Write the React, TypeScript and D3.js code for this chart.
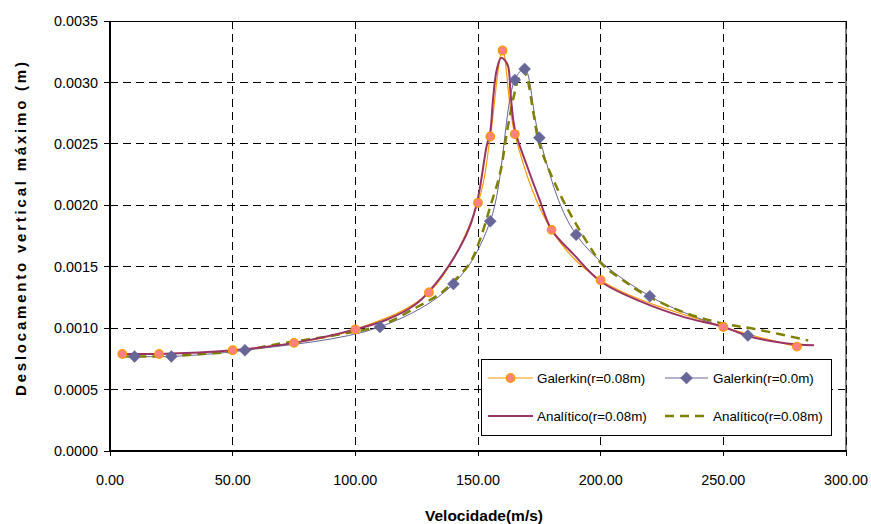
import React from "react";
import * as d3 from "d3";

const W = 871;
const H = 524;

const xTicks = [0, 50, 100, 150, 200, 250, 300];
const yTicks = [0, 0.0005, 0.001, 0.0015, 0.002, 0.0025, 0.003, 0.0035];

// Galerkin (r=0.08m) – circles
const galerkin008V = [5, 20, 50, 75, 100, 130, 150, 155, 160, 165, 180, 200, 250, 280];
const galerkin008Y = [0.00079, 0.00079, 0.00082, 0.00088, 0.00099, 0.00129, 0.00202, 0.00256, 0.00326, 0.00258, 0.00180, 0.00139, 0.00101, 0.00085];

// Galerkin (r=0.0m) – diamonds
const galerkin0V = [10, 25, 55, 110, 140, 155, 165, 169, 175, 190, 220, 260];
const galerkin0Y = [0.00077, 0.00077, 0.00082, 0.00101, 0.00136, 0.00187, 0.00302, 0.00311, 0.00255, 0.00176, 0.00126, 0.00094];

// Analítico (r=0.08m) – solid
const analitSolidV = [5, 20, 50, 75, 100, 113, 125, 135, 142.7, 146.7, 150, 153.5, 155, 156.2, 157.6, 159.4, 161, 162.3, 163.4, 165.1, 170, 175, 180, 189, 200, 216, 234, 250, 261, 274.5, 287];
const analitSolidY = [0.00079, 0.00079, 0.00082, 0.00088, 0.00099, 0.00107, 0.00120, 0.00142, 0.00166, 0.00183, 0.00206, 0.00248, 0.00260, 0.00288, 0.00310, 0.00320, 0.00318, 0.00313, 0.00288, 0.00261, 0.00232, 0.00205, 0.00180, 0.00160, 0.00138, 0.00122, 0.00109, 0.00101, 0.00093, 0.00088, 0.00086];

// Analítico (r=0.08m) – dashed
const analitDashV = [5, 20, 38, 55, 68, 91, 110, 125, 134.5, 140, 146.7, 150.8, 155, 159, 162, 164.5, 166.5, 168.5, 170.2, 172.6, 175, 182, 189, 195.7, 201, 210.6, 217.4, 233.7, 249.3, 263.6, 284.6];
const analitDashY = [0.00077, 0.00077, 0.00079, 0.00082, 0.00087, 0.00094, 0.00102, 0.00117, 0.00128, 0.00138, 0.00153, 0.00172, 0.00199, 0.00226, 0.00262, 0.00288, 0.00303, 0.00310, 0.00302, 0.00275, 0.00250, 0.00215, 0.00188, 0.00166, 0.00151, 0.00137, 0.00128, 0.00113, 0.00104, 0.00099, 0.00090];

const legendLabels = ["Galerkin(r=0.08m)", "Galerkin(r=0.0m)", "Analítico(r=0.08m)", "Analítico(r=0.08m)"];

const C_ORANGE = "#FF9900";
const C_SALMON = "#FF8080";
const C_BLUE = "#666699";
const C_MAGENTA = "#993366";
const C_OLIVE = "#808000";

const FONT = "'Liberation Sans', Arial, sans-serif";

export default function App() {
  const L = 110, R = 846, T = 21, B = 451;
  const x = d3.scaleLinear().domain([0, 300]).range([L, R]);
  const y = d3.scaleLinear().domain([0, 0.0035]).range([B, T]);

  const zip = (vs: number[], ys: number[]) => vs.map((v, i) => [v, ys[i]] as [number, number]);
  const smooth = d3.line<[number, number]>().x(d => x(d[0])).y(d => y(d[1])).curve(d3.curveCatmullRom.alpha(0.5));

  const g008 = zip(galerkin008V, galerkin008Y);
  const g0 = zip(galerkin0V, galerkin0Y);
  const aS = zip(analitSolidV, analitSolidY);
  const aD = zip(analitDashV, analitDashY);

  const diamond = (cx: number, cy: number, r: number) => `M${cx},${cy - r}L${cx + r},${cy}L${cx},${cy + r}L${cx - r},${cy}Z`;

  const lx1 = 488, lx2 = 533, lx3 = 665, lx4 = 708;
  const ly1 = 378, ly2 = 416;

  return (
    <svg width={W} height={H} style={{ position: "absolute", left: 0, top: 0, background: "#fff" }} fontFamily={FONT}>
      {/* grid */}
      {yTicks.filter(t => t > 0 && t < 0.0035).map((t, i) => (
        <line key={"gy" + i} x1={L} x2={R} y1={y(t)} y2={y(t)} stroke="#000" strokeWidth={1} strokeDasharray="8,5" shapeRendering="crispEdges" />
      ))}
      <line x1={R} x2={R} y1={T} y2={B} stroke="#808080" strokeWidth={1.5} shapeRendering="crispEdges" />
      {xTicks.filter(t => t > 0).map((t, i) => (
        <line key={"gx" + i} x1={x(t)} x2={x(t)} y1={T} y2={B} stroke="#000" strokeWidth={1} strokeDasharray="8,5" shapeRendering="crispEdges" />
      ))}
      <line x1={L} x2={R} y1={T} y2={T} stroke="#000" strokeWidth={1} shapeRendering="crispEdges" />

      {/* axes */}
      <line x1={L} x2={L} y1={T} y2={B} stroke="#000" strokeWidth={1.2} shapeRendering="crispEdges" />
      <line x1={L} x2={R} y1={B} y2={B} stroke="#000" strokeWidth={1.2} shapeRendering="crispEdges" />
      {yTicks.map((t, i) => (
        <g key={"yt" + i}>
          <line x1={L - 6} x2={L} y1={y(t)} y2={y(t)} stroke="#000" strokeWidth={1} shapeRendering="crispEdges" />
          <text x={L - 12} y={y(t)} dy="0.36em" textAnchor="end" fontSize={14.4} fill="#000">{t.toFixed(4)}</text>
        </g>
      ))}
      {xTicks.map((t, i) => (
        <g key={"xt" + i}>
          <line x1={x(t)} x2={x(t)} y1={B} y2={B + 5} stroke="#000" strokeWidth={1} shapeRendering="crispEdges" />
          <text x={x(t)} y={485} textAnchor="middle" fontSize={14.4} fill="#000">{t.toFixed(2)}</text>
        </g>
      ))}

      {/* series */}
      <path d={smooth(g008) || ""} fill="none" stroke={C_ORANGE} strokeWidth={1.2} />
      <path d={smooth(g0) || ""} fill="none" stroke={C_BLUE} strokeWidth={1} />
      <path d={smooth(aD) || ""} fill="none" stroke={C_OLIVE} strokeWidth={2.5} strokeDasharray="9,6" />
      <path d={smooth(aS) || ""} fill="none" stroke={C_MAGENTA} strokeWidth={2} />
      {g0.map((d, i) => (
        <path key={"dm" + i} d={diamond(x(d[0]), y(d[1]), 6)} fill={C_BLUE} stroke={C_BLUE} strokeWidth={0.5} />
      ))}
      {g008.map((d, i) => (
        <circle key={"cm" + i} cx={x(d[0])} cy={y(d[1])} r={4.3} fill={C_SALMON} stroke={C_ORANGE} strokeWidth={1.2} />
      ))}

      {/* legend */}
      <rect x={481} y={359} width={350} height={76} fill="#fff" stroke="#000" strokeWidth={1} shapeRendering="crispEdges" />
      <line x1={lx1} x2={lx2} y1={ly1} y2={ly1} stroke={C_ORANGE} strokeWidth={1.2} />
      <circle cx={(lx1 + lx2) / 2} cy={ly1} r={4.3} fill={C_SALMON} stroke={C_ORANGE} strokeWidth={1.2} />
      <text x={537} y={ly1} dy="0.36em" fontSize={13.4} fill="#000">{legendLabels[0]}</text>
      <line x1={lx3} x2={lx4} y1={ly1} y2={ly1} stroke={C_BLUE} strokeWidth={1} />
      <path d={diamond((lx3 + lx4) / 2, ly1, 6)} fill={C_BLUE} stroke={C_BLUE} strokeWidth={0.5} />
      <text x={713} y={ly1} dy="0.36em" fontSize={13.4} fill="#000">{legendLabels[1]}</text>
      <line x1={lx1} x2={lx2} y1={ly2} y2={ly2} stroke={C_MAGENTA} strokeWidth={2} />
      <text x={537} y={ly2} dy="0.36em" fontSize={13.4} fill="#000">{legendLabels[2]}</text>
      <line x1={lx3} x2={lx4} y1={ly2} y2={ly2} stroke={C_OLIVE} strokeWidth={2.5} strokeDasharray="9,6" />
      <text x={713} y={ly2} dy="0.36em" fontSize={13.4} fill="#000">{legendLabels[3]}</text>

      {/* axis titles */}
      <text x={484} y={521} textAnchor="middle" fontSize={15} fontWeight="bold" fill="#000" textLength={118} lengthAdjust="spacingAndGlyphs">Velocidade(m/s)</text>
      <text transform="translate(26,229) rotate(-90)" textAnchor="middle" fontSize={15} fontWeight="bold" fill="#000" textLength={334} lengthAdjust="spacing">Deslocamento vertical máximo (m)</text>
    </svg>
  );
}
